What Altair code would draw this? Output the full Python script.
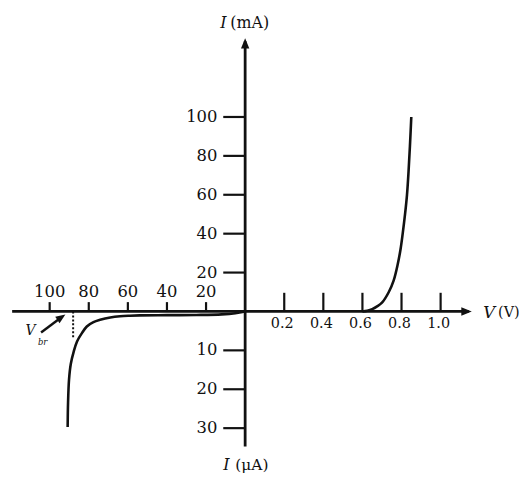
import altair as alt
import pandas as pd

# ---------------- data ----------------
# forward bias: V in volts, I in mA
fwd_V = [0.600, 0.625, 0.650, 0.675, 0.700, 0.735, 0.760, 0.780, 0.795, 0.806, 0.818, 0.828, 0.836, 0.843, 0.850]
fwd_I = [0.0, 0.4, 1.2, 2.6, 4.5, 10.0, 16.0, 24.0, 32.0, 40.0, 50.0, 60.0, 72.0, 85.0, 100.0]
# reverse bias: V in volts, I in microamps (negative = reverse)
rev_V = [0, -5, -12, -25, -40, -54, -59, -64, -69, -74.2, -77.6, -81, -83.5, -86, -87.7, -89.2, -90.1, -90.6, -90.8]
rev_I = [0, -0.45, -0.75, -0.9, -0.95, -1.0, -1.08, -1.22, -1.54, -2.15, -2.74, -3.85, -5.56, -7.7, -10.3, -13.5, -17.5, -23.5, -29.7]
V_br = -88          # breakdown voltage (dotted marker)
V_br_I = -7.1       # current where the dotted marker ends (μA)

x_pos_ticks = [0.2, 0.4, 0.6, 0.8, 1.0]
x_pos_labels = ["0.2", "0.4", "0.6", "0.8", "1.0"]
x_neg_ticks = [20, 40, 60, 80, 100]
y_pos_ticks = [20, 40, 60, 80, 100]
y_neg_ticks = [10, 20, 30]

# ---------------- broken-scale conversion to tick units ----------------
def fx(v):
    return v / 0.2 if v >= 0 else v / 20.0

def fy_mA(i):
    return i / 20.0

def fy_uA(i):
    return i / 10.0

XD = [-6.066, 7.005]
YD = [-4.209, 7.755]
XS = alt.Scale(domain=XD, nice=False, zero=False)
YS = alt.Scale(domain=YD, nice=False, zero=False)
X = lambda f: alt.X(f, type="quantitative", scale=XS, axis=None)
Y = lambda f: alt.Y(f, type="quantitative", scale=YS, axis=None)

FONT = "DejaVu Serif"
BLACK = "#111111"

# axes extents (tick units)
axis_h = [-5.96, 5.72]
axis_v = [-3.47, 6.95]
arrow_h_tip = 5.79
arrow_v_tip = 7.02

axes_df = pd.DataFrame([
    {"x": axis_h[0], "x2": axis_h[1], "y": 0, "y2": 0},
    {"x": 0, "x2": 0, "y": axis_v[0], "y2": axis_v[1]},
])
axes = alt.Chart(axes_df).mark_rule(color=BLACK, strokeWidth=2.8).encode(
    x=X("x"), x2="x2", y=Y("y"), y2="y2")

tick_rows = []
for v in x_pos_ticks:
    tick_rows.append({"x": fx(v), "x2": fx(v), "y": 0, "y2": 0.48})
for v in x_neg_ticks:
    tick_rows.append({"x": fx(-v), "x2": fx(-v), "y": 0, "y2": 0.24})
for i in y_pos_ticks:
    tick_rows.append({"x": -0.56, "x2": 0, "y": fy_mA(i), "y2": fy_mA(i)})
for i in y_neg_ticks:
    tick_rows.append({"x": -0.56, "x2": 0, "y": fy_uA(-i), "y2": fy_uA(-i)})
ticks = alt.Chart(pd.DataFrame(tick_rows)).mark_rule(color=BLACK, strokeWidth=2.2).encode(
    x=X("x"), x2="x2", y=Y("y"), y2="y2")

curve_rows = []
for k, (v, i) in enumerate(zip(fwd_V, fwd_I)):
    curve_rows.append({"s": "fwd", "o": k, "x": fx(v), "y": fy_mA(i)})
for k, (v, i) in enumerate(zip(rev_V, rev_I)):
    curve_rows.append({"s": "rev", "o": k, "x": fx(v), "y": fy_uA(i)})
curves = alt.Chart(pd.DataFrame(curve_rows)).mark_line(
    color=BLACK, strokeWidth=2.6, interpolate="catmull-rom").encode(
    x=X("x"), y=Y("y"), detail="s:N", order="o:Q")

dotted = alt.Chart(pd.DataFrame([{"x": fx(V_br), "y": 0, "y2": fy_uA(V_br_I)}])).mark_rule(
    color=BLACK, strokeWidth=2, strokeDash=[2, 2]).encode(x=X("x"), y=Y("y"), y2="y2")

# V_br pointer arrow
vbr_tail = (-5.22, -0.54)
vbr_tip = (-4.70, -0.15)
vbr_line = alt.Chart(pd.DataFrame([{"x": vbr_tail[0], "y": vbr_tail[1],
                                     "x2": vbr_tip[0], "y2": vbr_tip[1]}])).mark_rule(
    color=BLACK, strokeWidth=2.4).encode(x=X("x"), x2="x2", y=Y("y"), y2="y2")

RIGHT = "M1,0L-1,-0.8L-1,0.8Z"
UP = "M0,-1L-0.8,1L0.8,1Z"
heads_df = pd.DataFrame([
    {"x": arrow_h_tip - 0.127, "y": 0, "shape": RIGHT, "a": 0, "sz": 110},
    {"x": 0, "y": arrow_v_tip - 0.128, "shape": UP, "a": 0, "sz": 110},
    {"x": -4.70, "y": -0.15, "shape": RIGHT, "a": 326, "sz": 95},
])
heads = alt.Chart(heads_df).mark_point(filled=True, color=BLACK, opacity=1, strokeWidth=0).encode(
    x=X("x"), y=Y("y"),
    shape=alt.Shape("shape:N", scale=None),
    angle=alt.Angle("a:Q", scale=None),
    size=alt.Size("sz:Q", scale=None))

# tick labels
lab_neg_x = alt.Chart(pd.DataFrame({"x": [fx(-v) for v in x_neg_ticks], "t": [str(v) for v in x_neg_ticks]})).mark_text(
    font=FONT, fontSize=16.5, color=BLACK, baseline="middle", align="center", dy=-20).encode(
    x=X("x"), y=alt.Y(datum=0, scale=YS, axis=None), text="t:N")
lab_pos_x = alt.Chart(pd.DataFrame({"x": [fx(v) for v in x_pos_ticks], "t": x_pos_labels})).mark_text(
    font=FONT, fontSize=14.5, color=BLACK, baseline="middle", align="center", dy=13, dx=-2).encode(
    x=X("x"), y=alt.Y(datum=0, scale=YS, axis=None), text="t:N")
ylab_df = pd.DataFrame({"y": [fy_mA(i) for i in y_pos_ticks] + [fy_uA(-i) for i in y_neg_ticks],
                        "t": [str(i) for i in y_pos_ticks] + [str(i) for i in y_neg_ticks]})
lab_y = alt.Chart(ylab_df).mark_text(
    font=FONT, fontSize=16.5, color=BLACK, baseline="middle", align="right", dx=-28).encode(
    x=alt.X(datum=0, scale=XS, axis=None), y=Y("y"), text="t:N")

# axis titles (italic symbol + upright unit)
it_df = pd.DataFrame([
    {"x": -0.635, "y": 7.42, "t": "I", "fs": 16},
    {"x": -0.56, "y": -3.95, "t": "I", "fs": 16},
    {"x": 6.09, "y": -0.03, "t": "V", "fs": 16.5},
    {"x": -5.62, "y": -0.50, "t": "V", "fs": 14},
])
up_df = pd.DataFrame([
    {"x": -0.38, "y": 7.42, "t": "(mA)", "fs": 16},
    {"x": -0.25, "y": -3.95, "t": "(μA)", "fs": 15.5},
    {"x": 6.47, "y": -0.03, "t": "(V)", "fs": 14.5},
])
titles_it = alt.Chart(it_df).mark_text(
    font=FONT, fontStyle="italic", color=BLACK, baseline="middle", align="left").encode(
    x=X("x"), y=Y("y"), text="t:N", size=alt.Size("fs:Q", scale=None))
titles_up = alt.Chart(up_df).mark_text(
    font=FONT, color=BLACK, baseline="middle", align="left").encode(
    x=X("x"), y=Y("y"), text="t:N", size=alt.Size("fs:Q", scale=None))
sub = alt.Chart(pd.DataFrame([{"x": -5.30, "y": -0.78, "t": "br"}])).mark_text(
    font=FONT, fontSize=8.5, fontStyle="italic", color=BLACK, baseline="middle", align="left").encode(
    x=X("x"), y=Y("y"), text="t:N")

chart = alt.layer(axes, ticks, curves, dotted, vbr_line, heads, lab_neg_x, lab_pos_x, lab_y,
                  titles_it, titles_up, sub).properties(
    width=515, height=469, autosize=alt.AutoSizeParams(type="none"), padding=0,
    background="white").configure_view(stroke=None)

chart.save("out.html", embed_options={"renderer": "svg", "actions": False})
